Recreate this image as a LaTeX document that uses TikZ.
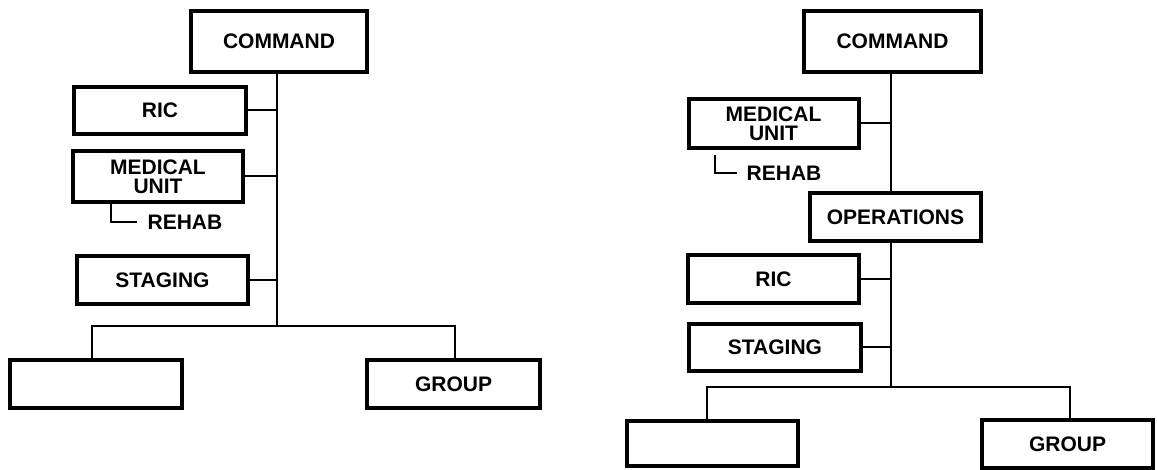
\documentclass[tikz,border=0pt]{standalone}
\usepackage{fontspec}
\setmainfont{Liberation Sans}
\begin{document}
\begin{tikzpicture}[x=1pt,y=-1pt,
  unit/.style={draw, line width=4pt, inner sep=0pt, align=center,
    font=\fontsize{21}{19}\selectfont\bfseries},
  size/.style 2 args={minimum width=#1pt, minimum height=#2pt},
  tag/.style={inner sep=0pt, font=\fontsize{21}{19}\selectfont\bfseries},
  link/.style={line width=2pt, line join=miter}]
\useasboundingbox (0,0) rectangle (1157,470);

% ---------- left chart ----------
\node[unit, size={176}{61}] (cmdL) at (279,41.5) {COMMAND};
\node[unit, size={172}{47}] (ricL) at (160,110.5) {RIC};
\node[unit, size={170}{51}] (medL) at (158,176.5) {MEDICAL\\UNIT};
\node[tag] (rehL) at (185,222.5) {REHAB};
\node[unit, size={171}{48}] (stgL) at (162.5,280.5) {STAGING};
\node[unit, size={172}{48}] (blkL) at (96,384) {};
\node[unit, size={173}{48}] (grpL) at (453.5,384) {GROUP};
\coordinate (jL) at (277,326);

\draw[link] (cmdL.south -| jL) -- (jL);
\draw[link] (ricL.east) -- (ricL.east -| jL);
\draw[link] (medL.east) -- (medL.east -| jL);
\draw[link] (stgL.east) -- (stgL.east -| jL);
\draw[link] ([xshift=-4pt]blkL.north) -- ([xshift=-4pt]blkL.north |- jL)
  -- ([xshift=1.5pt]grpL.north |- jL) -- ([xshift=1.5pt]grpL.north);
\draw[link] ([xshift=-47pt]medL.south) |- ([xshift=-10pt]rehL.west);

% ---------- right chart ----------
\node[unit, size={177}{61}] (cmdR) at (892.5,41.5) {COMMAND};
\node[unit, size={170}{49}] (medR) at (773.5,123.5) {MEDICAL\\UNIT};
\node[tag] (rehR) at (784,173) {REHAB};
\node[unit, size={171}{48}] (opsR) at (895.5,217) {OPERATIONS};
\node[unit, size={171}{48}] (ricR) at (773.5,279) {RIC};
\node[unit, size={172}{47}] (stgR) at (775,347.5) {STAGING};
\node[unit, size={171}{45}] (blkR) at (712.5,443.5) {};
\node[unit, size={171}{48}] (grpR) at (1067.5,444) {GROUP};
\coordinate (jR) at (891,387);

\draw[link] (cmdR.south -| jR) -- (opsR.north -| jR);
\draw[link] (opsR.south -| jR) -- (jR);
\draw[link] (medR.east) -- (medR.east -| jR);
\draw[link] (ricR.east) -- (ricR.east -| jR);
\draw[link] (stgR.east) -- (stgR.east -| jR);
\draw[link] ([xshift=-5.5pt]blkR.north) -- ([xshift=-5.5pt]blkR.north |- jR)
  -- ([xshift=2.5pt]grpR.north |- jR) -- ([xshift=2.5pt]grpR.north);
\draw[link] ([xshift=-58.5pt,yshift=-5pt]medR.south) |- ([xshift=-9pt]rehR.west);
\end{tikzpicture}
\end{document}
